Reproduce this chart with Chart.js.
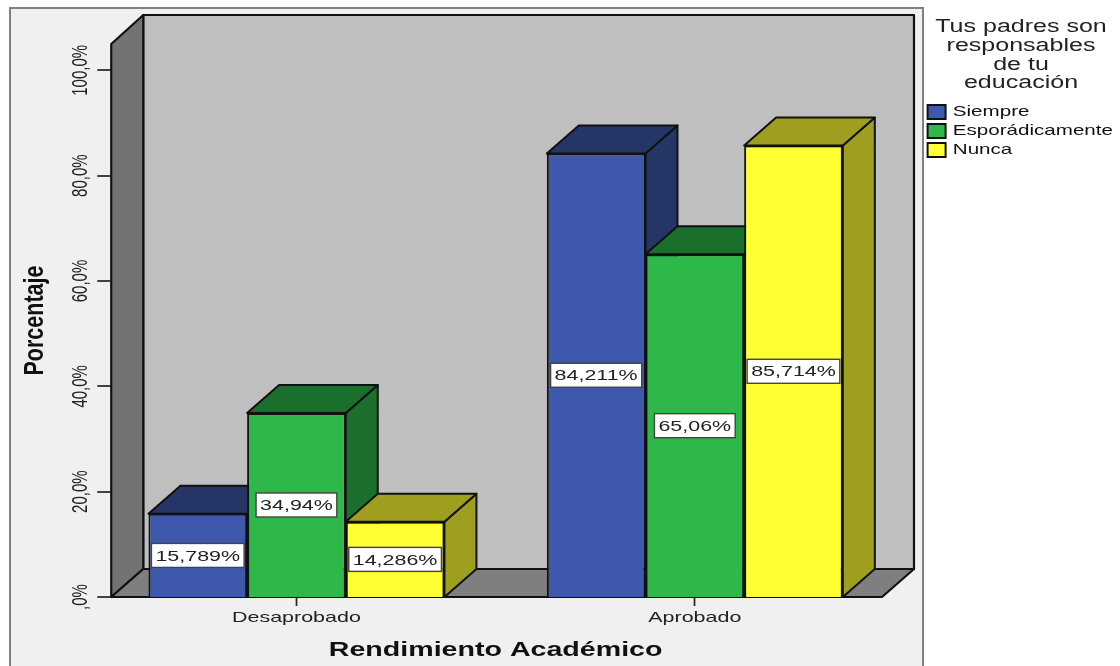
<!DOCTYPE html>
<html>
<head>
<meta charset="utf-8">
<style>html,body{margin:0;padding:0;background:#fff}canvas{display:block;filter:blur(0.45px)}</style>
<script src="https://cdn.jsdelivr.net/npm/chart.js@4/dist/chart.umd.min.js"></script>
</head>
<body>
<canvas id="c" width="1120" height="666"></canvas>
<script>
const categories = ['Desaprobado', 'Aprobado'];
const siempre = [15.789, 84.211];
const esporadicamente = [34.94, 65.06];
const nunca = [14.286, 85.714];
const siempreLabels = ['15,789%', '84,211%'];
const esporadicamenteLabels = ['34,94%', '65,06%'];
const nuncaLabels = ['14,286%', '85,714%'];
const yTickLabels = [',0%', '20,0%', '40,0%', '60,0%', '80,0%', '100,0%'];
const legendTitle = ['Tus padres son', 'responsables', 'de tu', 'educación'];

const FRONT = ['#3e58ac', '#2eb84a', '#ffff33'];
const SHADE = ['#243566', '#1b6f2d', '#9e9e1f'];
const DX = 32, DY = 28;
const FONT = 'Liberation Sans';

const canvas = document.getElementById('c');
const ctx0 = canvas.getContext('2d');
const rawFill = ctx0.fillText.bind(ctx0);
// The reference picture is stretched sideways, so its text is too.
ctx0.fillText = function (t, x, y, m) {
  ctx0.save();
  ctx0.translate(x, y);
  const tr = ctx0.getTransform();
  const rotated = Math.abs(tr.a) < 0.5;
  if (rotated) ctx0.scale(1, ctx0.font.indexOf('bold') >= 0 ? 1.25 : 1.5);
  else ctx0.scale(1.43, 1);
  rawFill(t, 0, 0);
  ctx0.restore();
};

function poly(ctx, pts, fill, lw) {
  ctx.beginPath();
  pts.forEach((p, i) => i ? ctx.lineTo(p[0], p[1]) : ctx.moveTo(p[0], p[1]));
  ctx.closePath();
  ctx.fillStyle = fill;
  ctx.fill();
  ctx.lineWidth = lw || 2;
  ctx.strokeStyle = '#111';
  ctx.lineJoin = 'round';
  ctx.stroke();
}

const scene = {
  id: 'scene',
  beforeLayout(chart) {
    const l = chart.legend;
    if (l && !l._wrapped) {
      const f = l.fit;
      l.fit = function () { f.call(this); this.width = 226; };
      l._wrapped = true;
    }
  },
  afterLayout(chart) {
    const l = chart.legend;
    l.left = 923; l.right = 1119; l.top = 18.5; l.width = 196;
  },
  beforeDraw(chart) {
    const c = chart.ctx;
    c.save();
    c.fillStyle = '#f0f0f0';
    c.strokeStyle = '#808080';
    c.lineWidth = 2;
    c.fillRect(10, 8, 913, 670);
    c.strokeRect(10, 8, 913, 670);
    c.restore();
  },
  beforeDatasetsDraw(chart) {
    const c = chart.ctx, a = chart.chartArea, y = chart.scales.y;
    const L = a.left + 14, R = a.right - 12, B = y.getPixelForValue(0), T = y.getPixelForValue(105);
    c.save();
    poly(c, [[L + DX, T - DY - 1], [R + DX, T - DY - 1], [R + DX, B - DY], [L + DX, B - DY]], '#bfbfbf', 2.2);
    poly(c, [[L, T], [L + DX, T - DY - 1], [L + DX, B - DY], [L, B]], '#737373', 2.2);
    poly(c, [[L, B], [L + DX, B - DY], [R + DX, B - DY], [R, B]], '#7f7f7f', 2.2);
    // y axis tick marks
    c.strokeStyle = '#222';
    c.lineWidth = 1.7;
    y.ticks.forEach(t => {
      const p = Math.round(y.getPixelForValue(t.value));
      c.beginPath(); c.moveTo(L - 14, p); c.lineTo(L, p); c.stroke();
    });
    // bars: left to right so that nearer faces cover the sides of earlier bars
    categories.forEach((_, i) => {
      chart.data.datasets.forEach((ds, d) => {
        const b = chart.getDatasetMeta(d).data[i];
        const l = b.x - b.width / 2, r = b.x + b.width / 2;
        poly(c, [[r, b.y], [r + DX, b.y - DY], [r + DX, b.base - DY], [r, b.base]], SHADE[d]);
        poly(c, [[l, b.y], [l + DX, b.y - DY], [r + DX, b.y - DY], [r, b.y]], SHADE[d]);
        b.draw(c);
      });
    });
    c.restore();
  },
  beforeDatasetDraw() { return false; },
  afterDatasetsDraw(chart) {
    const c = chart.ctx;
    const texts = [siempreLabels, esporadicamenteLabels, nuncaLabels];
    c.save();
    c.font = '15px "' + FONT + '"';
    c.textAlign = 'center';
    c.textBaseline = 'middle';
    chart.data.datasets.forEach((ds, d) => {
      chart.getDatasetMeta(d).data.forEach((b, i) => {
        const t = texts[d][i];
        const w = c.measureText(t).width * 1.43 + 8, h = 24;
        const cy = (b.y + b.base) / 2;
        c.fillStyle = '#fff';
        c.strokeStyle = '#444';
        c.lineWidth = 1.4;
        c.fillRect(b.x - w / 2, cy - h / 2, w, h);
        c.strokeRect(b.x - w / 2, cy - h / 2, w, h);
        c.fillStyle = '#222';
        c.fillText(t, b.x, cy + 1);
      });
    });
    c.restore();
  }
};

const makeSet = (label, data, i) => ({
  label, data,
  backgroundColor: FRONT[i],
  borderColor: '#111',
  borderWidth: 2,
  categoryPercentage: 0.743,
  barPercentage: 1
});

new Chart(canvas, {
  type: 'bar',
  data: {
    labels: categories,
    datasets: [
      makeSet('Siempre', siempre, 0),
      makeSet('Esporádicamente', esporadicamente, 1),
      makeSet('Nunca', nunca, 2)
    ]
  },
  options: {
    responsive: false,
    animation: false,
    layout: { padding: { left: 0, right: 0, top: 44, bottom: 0 } },
    scales: {
      x: {
        afterFit(s) { s.height = 69; },
        grid: { drawOnChartArea: false, offset: false, tickLength: 9, color: '#222', tickWidth: 1.7 },
        border: { display: false },
        ticks: { color: '#222', padding: 3, font: { family: FONT, size: 15 }, maxRotation: 0 },
        title: { display: true, text: 'Rendimiento Académico', color: '#111', font: { family: FONT, size: 20, weight: 'bold' }, padding: { top: 0, bottom: 4 } }
      },
      y: {
        min: 0, max: 105,
        afterFit(s) { s.width = 97.25; },
        grid: { display: false, drawTicks: false },
        border: { display: false },
        ticks: {
          stepSize: 20, includeBounds: false, autoSkip: false,
          minRotation: 90, maxRotation: 90, crossAlign: 'center', padding: -8.5,
          color: '#222', font: { family: FONT, size: 15 },
          callback(v) { return yTickLabels[Math.round(v / 20)]; }
        },
        title: { display: true, text: 'Porcentaje', color: '#111', font: { family: FONT, size: 21.5, weight: 'bold' }, padding: { top: 23, bottom: 0 } }
      }
    },
    plugins: {
      tooltip: { enabled: false },
      legend: {
        display: true,
        position: 'right',
        align: 'start',
        title: { display: true, text: legendTitle, color: '#222', font: { family: FONT, size: 17.5, lineHeight: 1.07 }, padding: { top: 0, bottom: 63 } },
        labels: { boxWidth: 18, boxHeight: 14, padding: 4.6, color: '#111', font: { family: FONT, size: 14.4 } }
      }
    }
  },
  plugins: [scene]
});
</script>
</body>
</html>
